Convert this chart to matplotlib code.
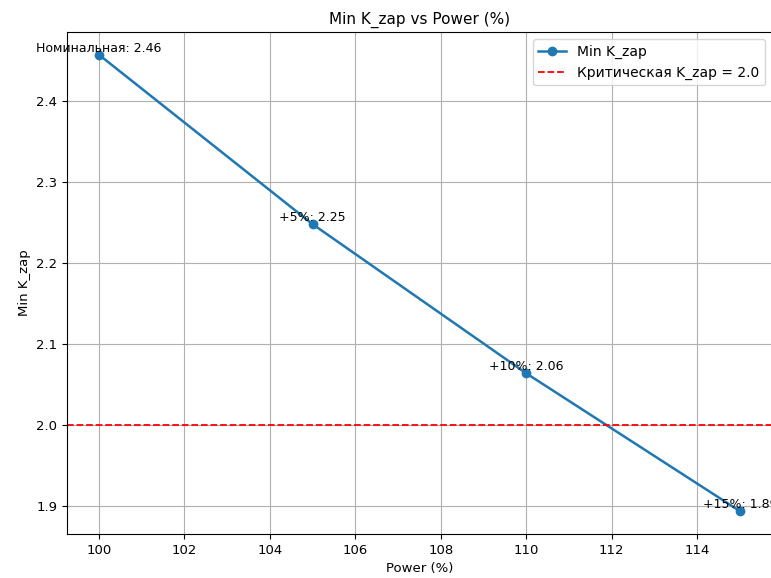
import matplotlib
matplotlib.use("Agg")
import matplotlib.pyplot as plt

power = [100, 105, 110, 115]
k_zap = [2.457, 2.248, 2.064, 1.894]
labels = ["Номинальная", "+5%", "+10%", "+15%"]
critical = 2.0

fig = plt.figure(figsize=(7.71, 5.78), dpi=100)
ax = fig.add_axes([67/771, 1 - 534/578, (772-67)/771, (534-32)/578])

ax.plot(power, k_zap, marker='o', color='#1f77b4', linewidth=1.8, markersize=6, label='Min K_zap')
ax.axhline(critical, color='red', linestyle='--', linewidth=1.3, label=f'Критическая K_zap = {critical}')
for x, y, lab in zip(power, k_zap, labels):
    ax.text(x, y, f"{lab}: {y:.2f}", ha='center', va='bottom', fontsize=9)

ax.set_title('Min K_zap vs Power (%)', fontsize=11)
ax.set_xlabel('Power (%)', fontsize=9.5)
ax.set_ylabel('Min K_zap', fontsize=9.5)
ax.tick_params(labelsize=9.5)
ax.grid(True)
ax.legend(loc='upper right', fontsize=10)

fig.savefig('out.png', dpi=100)
